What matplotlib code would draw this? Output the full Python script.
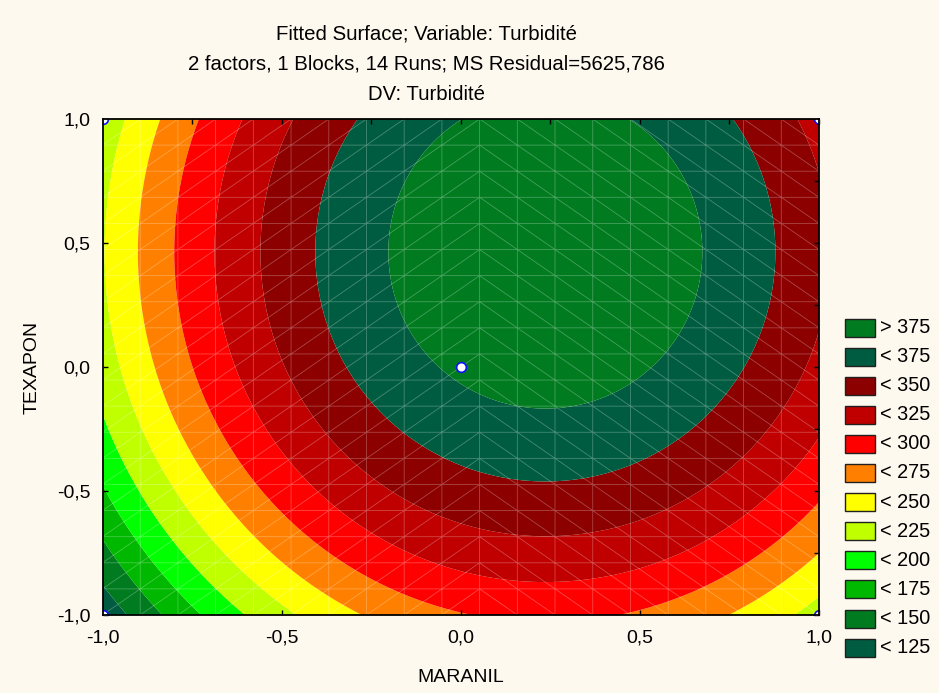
import numpy as np
import matplotlib
matplotlib.use("Agg")
import matplotlib.pyplot as plt
import matplotlib.tri as mtri
from matplotlib.patches import Rectangle
from matplotlib.ticker import MultipleLocator, FuncFormatter

plt.rcParams['font.family'] = ['Liberation Sans', 'DejaVu Sans']

# fitted quadratic model (coded units): Turbidite = b0 + b1*x + b2*y + b11*x^2 + b22*y^2
b0 = 378.7
b1 = 53.6     # MARANIL
b2 = 50.7     # TEXAPON
b11 = -113.5
b22 = -54.6

levels = [125, 150, 175, 200, 225, 250, 275, 300, 325, 350, 375]
# colours from lowest band (< 125) to highest (> 375)
band_colors = ['#005C40', '#007B1F', '#00B800', '#00FF00', '#C0FF00', '#FFFF00',
               '#FF8000', '#FF0000', '#C00000', '#8C0000', '#005C40', '#007B1F']
band_labels = ['< 125', '< 150', '< 175', '< 200', '< 225', '< 250',
               '< 275', '< 300', '< 325', '< 350', '< 375', '> 375']

# design points visible in the window
design_x = [0.0, -1.0, 1.0, -1.0, 1.0]
design_y = [0.0, -1.0, -1.0, 1.0, 1.0]

titles = ['Fitted Surface; Variable: Turbidité',
          '2 factors, 1 Blocks, 14 Runs; MS Residual=5625,786',
          'DV: Turbidité']

bg = '#FEF9EF'
W, H = 939, 693

fig = plt.figure(figsize=(W / 100, H / 100), dpi=100, facecolor=bg)
ax = fig.add_axes([102.5 / W, 1 - 615 / H, 716.5 / W, 496 / H])
ax.set_facecolor(bg)

xs = np.linspace(-1, 1, 401)
ys = np.linspace(-1, 1, 401)
X, Y = np.meshgrid(xs, ys)
Z = b0 + b1 * X + b2 * Y + b11 * X ** 2 + b22 * Y ** 2
ax.contourf(X, Y, Z, levels=[Z.min() - 1] + levels + [Z.max() + 1],
            colors=band_colors, antialiased=True)

# wire mesh of the fitted surface
n = 20
gx, gy = np.meshgrid(np.linspace(-1, 1, n), np.linspace(-1, 1, n))
tris = []
for j in range(n - 1):
    for i in range(n - 1):
        p00 = j * n + i
        p10 = p00 + 1
        p01 = p00 + n
        p11 = p01 + 1
        if i < 10:
            tris += [[p00, p10, p11], [p00, p11, p01]]
        else:
            tris += [[p00, p10, p01], [p10, p11, p01]]
tri = mtri.Triangulation(gx.ravel(), gy.ravel(), tris)
ax.triplot(tri, color='white', lw=0.6, alpha=0.28)

ax.plot(design_x, design_y, 'o', ms=7, mfc='white', mec='#1010FF', mew=1.2)

ax.set_xlim(-1, 1)
ax.set_ylim(-1, 1)
fmt = FuncFormatter(lambda v, p: f'{v:.1f}'.replace('.', ','))
ax.xaxis.set_major_locator(MultipleLocator(0.5))
ax.yaxis.set_major_locator(MultipleLocator(0.5))
ax.xaxis.set_minor_locator(MultipleLocator(0.25))
ax.yaxis.set_minor_locator(MultipleLocator(0.25))
ax.xaxis.set_major_formatter(fmt)
ax.yaxis.set_major_formatter(fmt)
ax.tick_params(which='major', direction='in', length=3.5, width=1, top=True, right=True,
               labelsize=14, colors='black')
ax.tick_params(which='minor', direction='in', length=3.5, width=1, top=True, right=True,
               bottom=False, left=False)
ax.tick_params(axis='x', pad=10.5)
ax.tick_params(axis='y', pad=8.6)
for s in ax.spines.values():
    s.set_linewidth(1.3)
    s.set_color('black')

ax.set_xlabel('MARANIL', fontsize=14, va='center')
ax.xaxis.set_label_coords(0.5, (615 - 677) / 496)
ax.set_ylabel('TEXAPON', fontsize=14, va='center')
ax.yaxis.set_label_coords((32.5 - 102.5) / 716.5, 0.5)

for k, t in enumerate(titles):
    fig.text(426.5 / W, 1 - (34 + 30 * k) / H, t, ha='center', va='center', fontsize=14.7)

# legend, highest band on top
for k, (c, lab) in enumerate(zip(band_colors[::-1], band_labels[::-1])):
    yc = 327.5 + 29.1 * k
    fig.add_artist(Rectangle((844.5 / W, 1 - (yc + 9) / H), 30.5 / W, 18 / H,
                             transform=fig.transFigure, facecolor=c,
                             edgecolor='#202020', lw=1))
    fig.text(880 / W, 1 - yc / H, lab, ha='left', va='center', fontsize=14.3)

fig.savefig('out.png', dpi=100, facecolor=bg)
